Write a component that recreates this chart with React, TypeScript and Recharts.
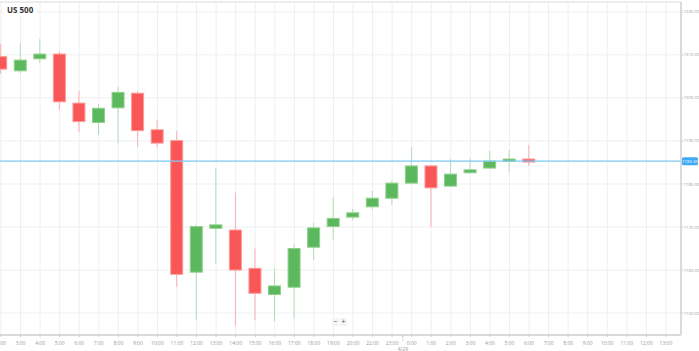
import React from 'react';
import { ComposedChart, Bar, XAxis, YAxis, CartesianGrid, ReferenceLine } from 'recharts';

// hourly slots (market closed 21:00)
const hours = [
  '2:00', '3:00', '4:00', '5:00', '6:00', '7:00', '8:00', '9:00', '10:00', '11:00',
  '12:00', '13:00', '14:00', '15:00', '16:00', '17:00', '18:00', '19:00', '20:00',
  '22:00', '23:00', '0:00', '1:00', '2:00', '3:00', '4:00', '5:00', '6:00',
  '7:00', '8:00', '9:00', '10:00', '11:00', '12:00', '13:00',
];

const opens = [
  7209.6, 7206.3, 7209.1, 7210.2, 7198.8, 7194.3, 7197.7, 7201.1, 7192.6, 7190.1,
  7159.5, 7169.7, 7169.3, 7160.4, 7154.3, 7156.0, 7165.3, 7170.1, 7172.3,
  7174.7, 7176.7, 7180.2, 7184.2, 7179.5, 7182.6, 7183.7, 7185.3, 7185.8,
];
const highs = [
  7212.6, 7212.7, 7213.7, 7210.8, 7201.6, 7198.6, 7202.6, 7201.6, 7195.0, 7192.3,
  7170.5, 7183.7, 7178.0, 7165.0, 7160.4, 7166.0, 7170.9, 7176.9, 7174.2,
  7178.4, 7180.9, 7188.6, 7184.4, 7185.8, 7186.0, 7187.7, 7187.9, 7189.1,
];
const lows = [
  7205.6, 7205.7, 7208.1, 7197.2, 7192.0, 7191.4, 7189.5, 7188.7, 7188.6, 7156.1,
  7148.4, 7161.4, 7147.0, 7148.4, 7148.1, 7148.8, 7162.3, 7167.1, 7171.6,
  7174.0, 7175.1, 7180.0, 7170.0, 7179.3, 7182.4, 7183.5, 7182.8, 7184.2,
];
const closes = [
  7206.7, 7208.8, 7210.2, 7199.1, 7194.5, 7197.6, 7201.3, 7192.4, 7189.5, 7159.0,
  7170.1, 7170.5, 7160.0, 7154.6, 7156.3, 7165.0, 7169.8, 7172.0, 7173.3,
  7176.7, 7180.2, 7184.2, 7179.1, 7182.3, 7183.3, 7185.3, 7185.8, 7185.1,
];

const priceTicks = [7150, 7160, 7170, 7180, 7190, 7200, 7210, 7220];
const currentPrice = 7185.3;
const dayLabel = '4/29';
const dayBreak = 20.55;
const xMin = -0.05;
const xMax = 34.77;

const data = hours.map((h, i) => ({
  i,
  hour: h,
  open: opens[i],
  high: highs[i],
  low: lows[i],
  close: closes[i],
}));

const UP = '#5cb85c';
const DOWN = '#f95657';

const Candle = (props: any) => {
  const { x, y, width, height, payload } = props;
  if (payload.open == null || !height) return null;
  const h = Math.abs(height);
  const top = height < 0 ? y + height : y;
  const ratio = h / (payload.high - payload.low);
  const up = payload.close >= payload.open;
  const bodyTop = top + (payload.high - Math.max(payload.open, payload.close)) * ratio;
  const bodyH = Math.max(Math.abs(payload.open - payload.close) * ratio, 1.5);
  const cx = x + width / 2;
  return (
    <g>
      <line x1={cx} x2={cx} y1={top} y2={top + h} stroke={up ? '#b5ddb5' : '#fbb0b0'} strokeWidth={1} />
      <rect
        x={x + 0.5}
        y={bodyTop}
        width={width - 1}
        height={bodyH}
        fill={up ? UP : DOWN}
        stroke={up ? '#8fd08f' : '#fc9a9a'}
        strokeWidth={1}
      />
    </g>
  );
};

const HourTick = (props: any) => {
  const { x, y, payload } = props;
  if (payload.value === dayBreak) {
    return (
      <g>
        <line x1={x} x2={x} y1={y - 3} y2={y + 3} stroke="#bbb" strokeDasharray="1 1" />
        <text x={x} y={y + 12} textAnchor="middle" fontSize={5} fill="#999">{dayLabel}</text>
      </g>
    );
  }
  return (
    <text x={x} y={y + 6} textAnchor="middle" fontSize={5} fill="#999">
      {hours[payload.value]}
    </text>
  );
};

const PriceLabel = (props: any) => {
  const { viewBox } = props;
  const lx = viewBox.x + viewBox.width + 1;
  return (
    <g>
      <rect x={lx} y={viewBox.y - 4} width={16} height={8} rx={1.5} fill="#3fa9f5" />
      <text x={lx + 8} y={viewBox.y + 1.6} textAnchor="middle" fontSize={4.3} fill="#fff">
        {currentPrice.toFixed(2)}
      </text>
    </g>
  );
};

// vertical grid only at the hour slots, not at the day marker
const gridX = ({ offset }: any) =>
  hours.map((_, i) => offset.left + ((i - xMin) / (xMax - xMin)) * offset.width);

export default function App() {
  return (
    <div style={{ position: 'relative', width: 699, height: 351, background: '#fff', fontFamily: '"Open Sans", sans-serif' }}>
      <style>{'body{margin:0}'}</style>
      <ComposedChart width={699} height={351} data={data} margin={{ top: 2, right: 0, left: 0, bottom: 0 }}>
        <CartesianGrid stroke="#efefef" verticalCoordinatesGenerator={gridX} />
        <XAxis
          dataKey="i"
          type="number"
          domain={[xMin, xMax]}
          allowDataOverflow
          ticks={[...hours.map((_, i) => i), dayBreak]}
          interval={0}
          height={16}
          axisLine={{ stroke: '#cfcfcf', strokeWidth: 1.5 }}
          tickLine={{ stroke: '#cfcfcf' }}
          tickSize={2}
          tick={<HourTick />}
        />
        <YAxis
          orientation="right"
          domain={[7144.9, 7222.3]}
          allowDataOverflow
          ticks={priceTicks}
          width={18}
          axisLine={{ stroke: '#cfcfcf', strokeWidth: 1.5 }}
          tickLine={{ stroke: '#cfcfcf' }}
          tickSize={2}
          tickMargin={0.5}
          tick={{ fontSize: 4.3, fill: '#999' }}
          tickFormatter={(v: number) => v.toFixed(2)}
        />
        <ReferenceLine y={7222.3} stroke="#e2e2e2" />
        <Bar
          dataKey={(d: any) => (d.low != null ? [d.low, d.high] : null)}
          barSize={13}
          shape={<Candle />}
          isAnimationActive={false}
        />
        <ReferenceLine y={currentPrice} stroke="#7cc8f6" strokeWidth={1.2} label={<PriceLabel />} />
      </ComposedChart>
      <div
        style={{
          position: 'absolute', left: 4, top: 3, padding: '1px 3px', background: '#fff',
          fontSize: 8, fontWeight: 700, color: '#333',
        }}
      >
        US 500
      </div>
      <div style={{ position: 'absolute', left: 332, top: 318, display: 'flex', gap: 1 }}>
        <div style={{ width: 7, height: 8, background: '#f4f4f4', fontSize: 7, lineHeight: '8px', textAlign: 'center', color: '#555' }}>−</div>
        <div style={{ width: 7, height: 8, background: '#f4f4f4', fontSize: 7, lineHeight: '8px', textAlign: 'center', color: '#555' }}>+</div>
      </div>
    </div>
  );
}
